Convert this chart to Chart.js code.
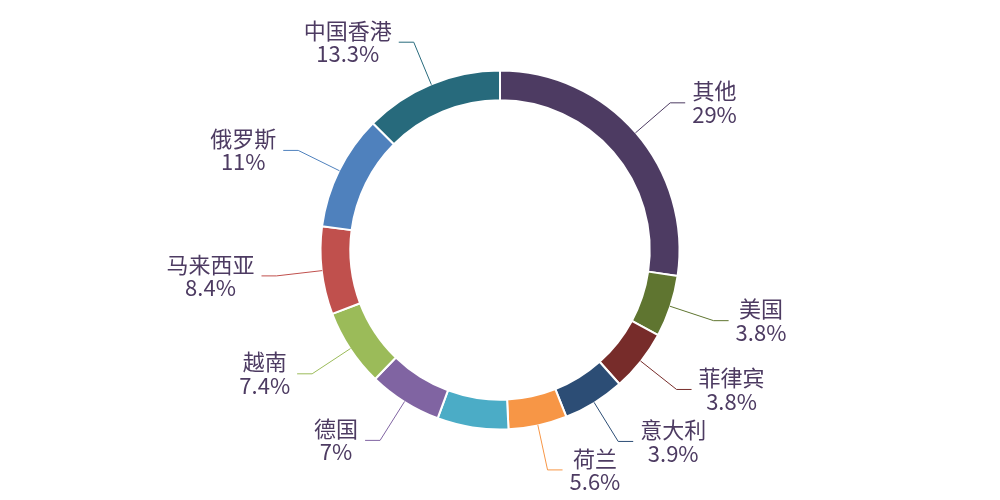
<!DOCTYPE html>
<html>
<head>
<meta charset="utf-8">
<script src="https://cdn.jsdelivr.net/npm/chart.js@4.4.1/dist/chart.umd.min.js"></script>
<style>
  html, body { margin: 0; padding: 0; background: #ffffff; }
  #wrap { width: 1000px; height: 500px; }
</style>
</head>
<body>
<div id="wrap"><canvas id="c" width="1000" height="500"></canvas></div>
<script>
// Categories, clockwise from 12 o'clock (the cyan slice carries no label in the reference)
const names = ['其他', '美国', '菲律宾', '意大利', '荷兰', '', '德国', '越南', '马来西亚', '俄罗斯', '中国香港'];
// Share of each category, in percent
const shares = [29, 3.8, 3.8, 3.9, 5.6, 6.8, 7, 7.4, 8.4, 11, 13.3];
const colors = ['#4D3B62', '#5F7530', '#772C2A', '#2C4D75', '#F79646', '#4BACC6',
                '#8064A2', '#9BBB59', '#C0504D', '#4F81BD', '#276A7C'];
// Slices smaller than this angle are widened to it (the rest shrink to fit)
const MIN_ANGLE_DEG = 20;

function applyMinAngle(vals, minDeg) {
  const sum = vals.reduce((a, b) => a + b, 0);
  let unit = 360 / sum;
  let rest = 360, bigSum = 0;
  const isMin = vals.map(v => {
    if (v * unit < minDeg) { rest -= minDeg; return true; }
    bigSum += v; return false;
  });
  if (rest < 360) unit = rest / bigSum;
  return vals.map((v, i) => isMin[i] ? minDeg : v * unit);
}
const arcWeights = applyMinAngle(shares, MIN_ANGLE_DEG);

const labelPlugin = {
  id: 'outerLabels',
  afterDraw(chart) {
    const ctx = chart.ctx;
    const meta = chart.getDatasetMeta(0);
    ctx.save();
    ctx.font = '22px "Noto Sans CJK SC", "Noto Sans", sans-serif';
    meta.data.forEach((arc, i) => {
      if (!names[i]) return;
      const p = arc.getProps(['x', 'y', 'startAngle', 'endAngle', 'outerRadius'], true);
      const mid = (p.startAngle + p.endAngle) / 2;
      const r0 = p.outerRadius - 0.5;
      const r1 = p.outerRadius + 45.5;
      const x0 = p.x + Math.cos(mid) * r0, y0 = p.y + Math.sin(mid) * r0;
      const x1 = p.x + Math.cos(mid) * r1, y1 = p.y + Math.sin(mid) * r1;
      const right = Math.cos(mid) >= 0;
      const x2 = x1 + (right ? 15 : -15);
      ctx.strokeStyle = colors[i];
      ctx.lineWidth = 1;
      ctx.beginPath();
      ctx.moveTo(x0, y0);
      ctx.lineTo(x1, y1);
      ctx.lineTo(x2, y1);
      ctx.stroke();
      const lines = [names[i], shares[i] + '%'];
      const w = Math.max(...lines.map(t => ctx.measureText(t).width));
      const cx = right ? x2 + 7 + w / 2 : x2 - 7 - w / 2;
      ctx.fillStyle = '#4D3B62';
      ctx.textAlign = 'center';
      ctx.textBaseline = 'middle';
      ctx.fillText(lines[0], cx, y1 - 11.7);
      ctx.fillText(lines[1], cx, y1 + 11.7);
    });
    ctx.restore();
  }
};

new Chart(document.getElementById('c'), {
  type: 'doughnut',
  data: {
    labels: names,
    datasets: [{
      data: arcWeights,
      backgroundColor: colors,
      borderColor: '#ffffff',
      borderWidth: 2,
      radius: 179.5
    }]
  },
  options: {
    responsive: false,
    animation: false,
    devicePixelRatio: 1,
    cutout: '83.4%',
    layout: { padding: 0 },
    plugins: {
      legend: { display: false },
      tooltip: { enabled: false }
    }
  },
  plugins: [labelPlugin]
});
</script>
</body>
</html>
